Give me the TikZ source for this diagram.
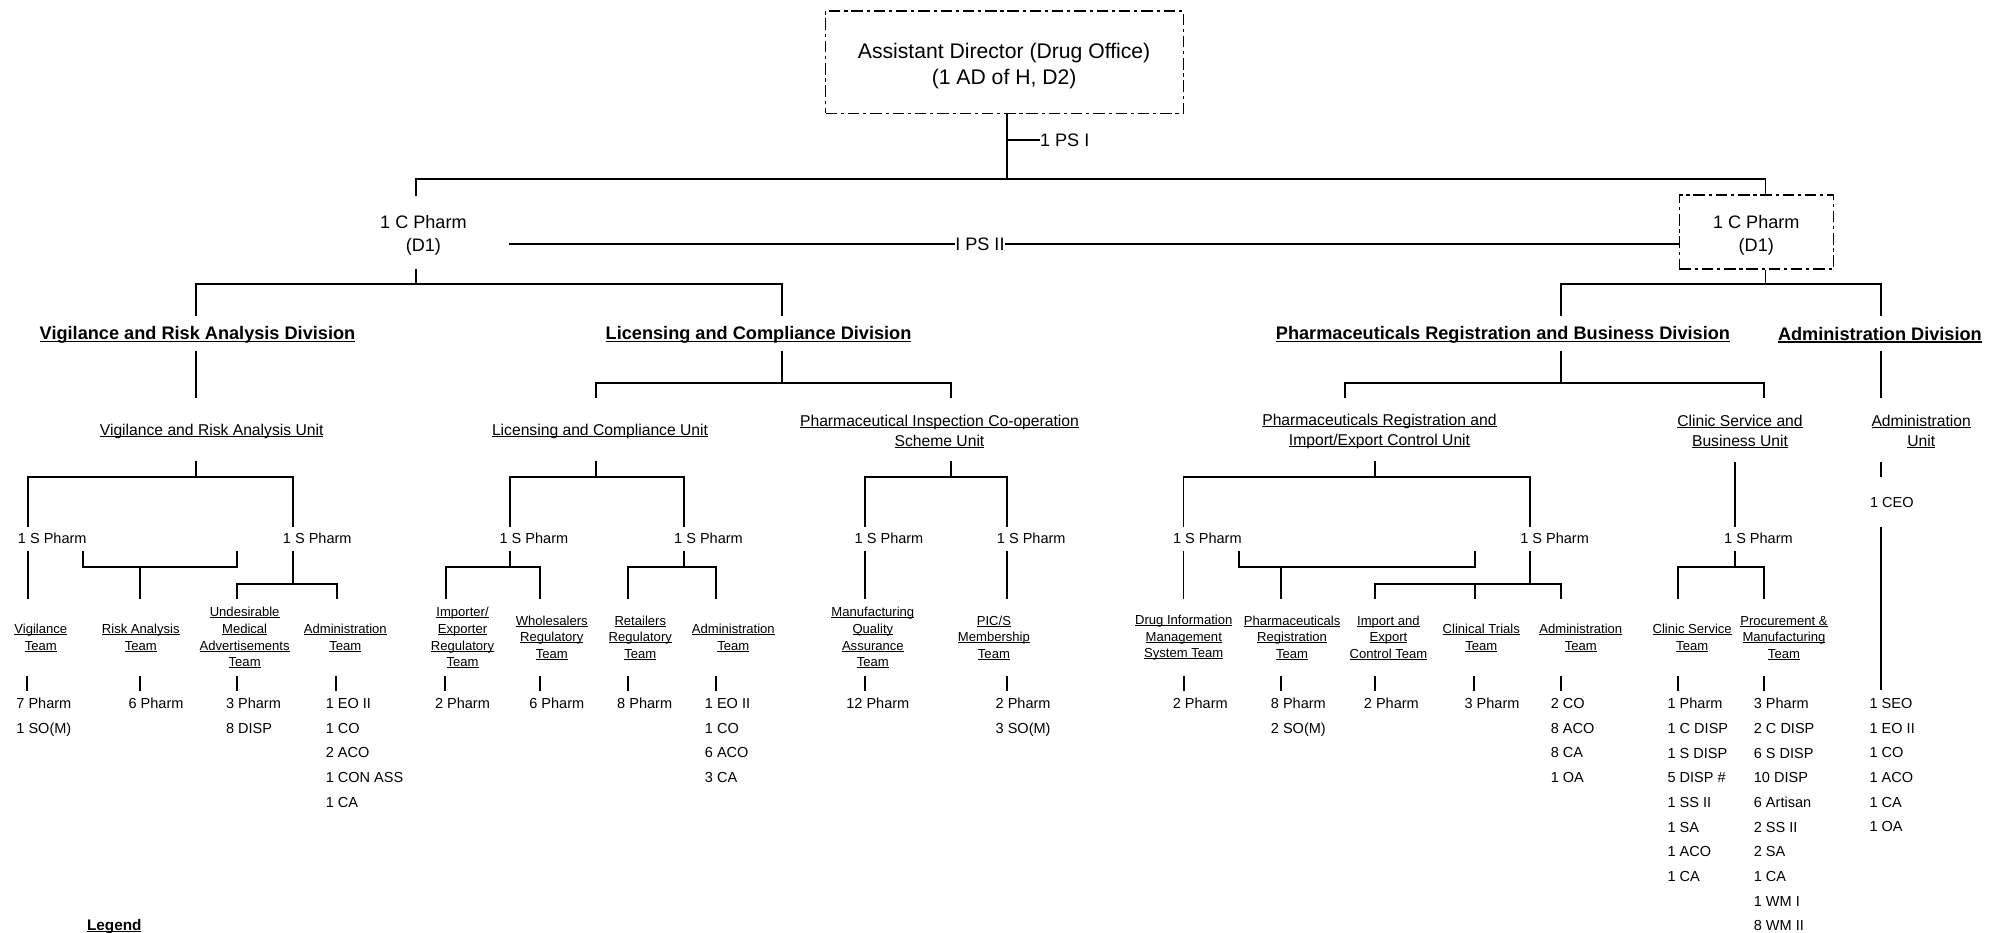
\documentclass[tikz,border=0pt]{standalone}
\usepackage{fontspec}
\setmainfont{Liberation Sans}
\newcommand{\UL}[1]{\leavevmode\setbox0\hbox{#1}\rlap{\rule[-0.11em]{\wd0}{0.07em}}\box0}
\newcommand{\fsTop}{\fontsize{16.6}{20.5}\selectfont}
\newcommand{\fsPos}{\fontsize{14.2}{18.3}\selectfont}
\newcommand{\fsDiv}{\fontsize{14.25}{17}\selectfont\bfseries}
\newcommand{\fsUnit}{\fontsize{12.3}{15.7}\selectfont}
\newcommand{\fsSP}{\fontsize{11.4}{14}\selectfont}
\newcommand{\fsTeam}{\fontsize{10.25}{13.1}\selectfont}
\newcommand{\fsStaff}{\fontsize{11.4}{19.35}\selectfont}
\begin{document}
\begin{tikzpicture}[x=1pt,y=-1pt,
  conn/.style={line width=1.5pt},
  teamtick/.style={line width=1.5pt},
  ddbox/.style={draw, line width=1.1pt, dash pattern=on 9pt off 3pt on 2.5pt off 3pt, inner sep=0pt},
  lbl/.style={inner sep=0pt, anchor=center},
  divn/.style={lbl, font=\fsDiv},
  unitn/.style={lbl, font=\fsUnit, align=center},
  spn/.style={lbl, font=\fsSP},
  team/.style={lbl, font=\fsTeam, align=center},
  staff/.style={inner sep=0pt, anchor=north west, align=left, font=\fsStaff}]
\useasboundingbox (0,0) rectangle (1568,732);

% ---------- top ----------
\node[ddbox, minimum width=280.6pt, minimum height=80.4pt] (ad) at (788.3,48.8) {};
\node[lbl, align=center, font=\fsTop] (adt) at (788,51.5) {Assistant Director (Drug Office)\\(1 AD of H, D2)};
\node[lbl, anchor=west, font=\fsPos] (ps1) at (816,110) {1 PS I};
\coordinate (j0) at (790,140.5);
\draw[conn] (ad.south -| j0) -- (j0);
\draw[conn] (ps1.west -| j0) -- (ps1.west);

\node[lbl, align=center, font=\fsPos] (d1l) at (332.3,184.6) {1 C Pharm\\(D1)};
\node[ddbox, minimum width=121pt, minimum height=58pt] (d1r) at (1378.5,182) {};
\node[lbl, align=center, font=\fsPos] (d1rt) at (1378.3,184.6) {1 C Pharm\\(D1)};
\coordinate (b0l) at (326.4,140.5);
\coordinate (b0r) at (1385.5,140.5);
\draw[conn] (326.4,153.8) -- (b0l) -- (b0r) -- (b0r |- d1r.north);

\node[lbl, font=\fsPos] (ps2) at (769,191.8) {I PS II};
\coordinate (ps2s) at (399.5,191.8);
\draw[conn] (ps2s) -- (ps2.west);
\draw[conn] (ps2.east) -- (ps2.east -| d1r.west);

% left director to divisions
\draw[conn] (326.4,211.4) -- (326.4,223.2);
\draw[conn] (153.6,248) -- (153.6,223.2) -- (614,223.2) -- (614,248);
% right director to divisions
\draw[conn] (d1r.south -| b0r) -- (1385.5,223.2);
\draw[conn] (1225.3,248) -- (1225.3,223.2) -- (1476,223.2) -- (1476,248);

% ---------- divisions ----------
\node[divn] (vrd) at (155,263) {\UL{Vigilance and Risk Analysis Division}};
\node[divn] (lcd) at (595.3,263) {\UL{Licensing and Compliance Division}};
\node[divn] (prbd) at (1179.5,263) {\UL{Pharmaceuticals Registration and Business Division}};
\node[divn] (add) at (1475.3,263) {\UL{Administration Division}};

\draw[conn] (153.6,275.5) -- (153.6,312.6);
\draw[conn] (614,275.5) -- (614,300.4);
\draw[conn] (467.4,312.6) -- (467.4,300.4) -- (746,300.4) -- (746,312.6);
\draw[conn] (1225.3,275.5) -- (1225.3,300.4);
\draw[conn] (1055.4,312.6) -- (1055.4,300.4) -- (1384.4,300.4) -- (1384.4,312.6);
\draw[conn] (1476,275.5) -- (1476,312.6);

% ---------- units ----------
\node[unitn] (vru) at (166.1,338.7) {\UL{Vigilance and Risk Analysis Unit}};
\node[unitn] (lcu) at (470.9,338.7) {\UL{Licensing and Compliance Unit}};
\node[unitn] (picsu) at (737.3,338.6) {\UL{Pharmaceutical Inspection Co-operation}\\\UL{Scheme Unit}};
\node[unitn] (prieu) at (1082.6,338.6) {\UL{Pharmaceuticals Registration and}\\\UL{Import/Export Control Unit}};
\node[unitn] (csbu) at (1365.5,338.6) {\UL{Clinic Service and}\\\UL{Business Unit}};
\node[unitn] (adu) at (1507.7,338.6) {\UL{Administration}\\\UL{Unit}};

\draw[conn] (153.6,362) -- (153.6,374);
\draw[conn] (21.7,413.4) -- (21.7,374) -- (230,374) -- (230,413.4);
\draw[conn] (467.4,362) -- (467.4,374);
\draw[conn] (400,413.4) -- (400,374) -- (537,374) -- (537,413.4);
\draw[conn] (746,362) -- (746,374);
\draw[conn] (679,413.4) -- (679,374) -- (790,374) -- (790,413.4);
\draw[conn] (1079,362) -- (1079,374);
\draw[conn] (928.8,413.4) -- (928.8,374) -- (1201,374) -- (1201,413.4);
\draw[conn] (1361.3,362.9) -- (1361.3,413.4);
\draw[conn] (1476,362.9) -- (1476,374);

% ---------- senior pharmacists ----------
\node[spn] (sp1) at (41,422.5) {1 S Pharm};
\node[spn] (sp2) at (249,422.5) {1 S Pharm};
\node[spn] (sp3) at (419,422.5) {1 S Pharm};
\node[spn] (sp4) at (556,422.5) {1 S Pharm};
\node[spn] (sp5) at (697.7,422.5) {1 S Pharm};
\node[spn] (sp6) at (809.3,422.5) {1 S Pharm};
\node[spn] (sp7) at (947.5,422.5) {1 S Pharm};
\node[spn] (sp8) at (1220,422.5) {1 S Pharm};
\node[spn] (sp9) at (1380,422.5) {1 S Pharm};
\node[spn] (ceo) at (1484.7,394.3) {1 CEO};

\draw[conn] (21.7,432.6) -- (21.7,470);
\draw[conn] (65.4,432.6) -- (65.4,444.8) -- (186,444.8) -- (186,432.6);
\draw[conn] (109.6,444.8) -- (109.6,470);
\draw[conn] (230,432.6) -- (230,458.4);
\draw[conn] (185.8,470) -- (185.8,458.4) -- (264.5,458.4) -- (264.5,470);
\draw[conn] (400,432.6) -- (400,444.8);
\draw[conn] (350,470) -- (350,444.8) -- (424,444.8) -- (424,470);
\draw[conn] (537,432.6) -- (537,444.8);
\draw[conn] (493,470) -- (493,444.8) -- (562,444.8) -- (562,470);
\draw[conn] (679,432.6) -- (679,470);
\draw[conn] (790,432.6) -- (790,470);
\draw[conn] (928.8,432.6) -- (928.8,470);
\draw[conn] (972.4,432.6) -- (972.4,444.8) -- (1157.3,444.8) -- (1157.3,432.6);
\draw[conn] (1005.3,444.8) -- (1005.3,470);
\draw[conn] (1201,432.6) -- (1201,458.4);
\draw[conn] (1079,470) -- (1079,458.4) -- (1225.3,458.4) -- (1225.3,470);
\draw[conn] (1157.3,458.4) -- (1157.3,470);
\draw[conn] (1361.3,432.6) -- (1361.3,444.8);
\draw[conn] (1317,470) -- (1317,444.8) -- (1384.4,444.8) -- (1384.4,470);
\draw[conn] (1476,413.4) -- (1476,541.6);

% ---------- teams ----------
\node[team] (t1) at (32,500.6) {\UL{Vigilance}\\\UL{Team}};
\node[team] (t2) at (110.5,500.6) {\UL{Risk Analysis}\\\UL{Team}};
\node[team] (t3) at (192,500.6) {\UL{Undesirable}\\\UL{Medical}\\\UL{Advertisements}\\\UL{Team}};
\node[team] (t4) at (271,500.6) {\UL{Administration}\\\UL{Team}};
\node[team] (t5) at (363,500.6) {\UL{Importer/}\\\UL{Exporter}\\\UL{Regulatory}\\\UL{Team}};
\node[team] (t6) at (433,500.6) {\UL{Wholesalers}\\\UL{Regulatory}\\\UL{Team}};
\node[team] (t7) at (502.5,500.6) {\UL{Retailers}\\\UL{Regulatory}\\\UL{Team}};
\node[team] (t8) at (575.5,500.6) {\UL{Administration}\\\UL{Team}};
\node[team] (t9) at (685,500.6) {\UL{Manufacturing}\\\UL{Quality}\\\UL{Assurance}\\\UL{Team}};
\node[team] (t10) at (780,500.6) {\UL{PIC/S}\\\UL{Membership}\\\UL{Team}};
\node[team] (t11) at (929,500.6) {\UL{Drug Information}\\\UL{Management}\\\UL{System Team}};
\node[team] (t12) at (1014,500.6) {\UL{Pharmaceuticals}\\\UL{Registration}\\\UL{Team}};
\node[team] (t13) at (1089.6,500.6) {\UL{Import and}\\\UL{Export}\\\UL{Control Team}};
\node[team] (t14) at (1162.5,500.6) {\UL{Clinical Trials}\\\UL{Team}};
\node[team] (t15) at (1240.6,500.6) {\UL{Administration}\\\UL{Team}};
\node[team] (t16) at (1328,500.6) {\UL{Clinic Service}\\\UL{Team}};
\node[team] (t17) at (1400,500.6) {\UL{Procurement \&}\\\UL{Manufacturing}\\\UL{Team}};

\foreach \x in {21.5,109.6,185.7,263.8,349.4,423.5,493,561.6,678.8,790,928.9,1005.3,1079,1156.7,1225,1317,1384.5}
  \draw[teamtick] (\x,530.6) -- (\x,542);

% ---------- staff ----------
\node[staff] (s1) at (12.7,547.9) {7 Pharm\\1 SO(M)};
\node[staff] (s2) at (100.7,547.9) {6 Pharm};
\node[staff] (s3) at (177.2,547.9) {3 Pharm\\8 DISP};
\node[staff] (s4) at (255.5,547.9) {1 EO II\\1 CO\\2 ACO\\1 CON ASS\\1 CA};
\node[staff] (s5) at (341.2,547.9) {2 Pharm};
\node[staff] (s6) at (415.2,547.9) {6 Pharm};
\node[staff] (s7) at (484.2,547.9) {8 Pharm};
\node[staff] (s8) at (553,547.9) {1 EO II\\1 CO\\6 ACO\\3 CA};
\node[staff] (s9) at (664,547.9) {12 Pharm};
\node[staff] (s10) at (781.2,547.9) {2 Pharm\\3 SO(M)};
\node[staff] (s11) at (920.2,547.9) {2 Pharm};
\node[staff] (s12) at (997.2,547.9) {8 Pharm\\2 SO(M)};
\node[staff] (s13) at (1070.2,547.9) {2 Pharm};
\node[staff] (s14) at (1149.2,547.9) {3 Pharm};
\node[staff] (s15) at (1216.8,547.9) {2 CO\\8 ACO\\8 CA\\1 OA};
\node[staff] (s16) at (1308.5,547.9) {1 Pharm\\1 C DISP\\1 S DISP\\5 DISP \#\\1 SS II\\1 SA\\1 ACO\\1 CA};
\node[staff] (s17) at (1376.2,547.9) {3 Pharm\\2 C DISP\\6 S DISP\\10 DISP\\6 Artisan\\2 SS II\\2 SA\\1 CA\\1 WM I\\8 WM II};
\node[staff] (s18) at (1467,547.9) {1 SEO\\1 EO II\\1 CO\\1 ACO\\1 CA\\1 OA};

% ---------- legend ----------
\node[lbl, font=\fontsize{12}{14}\selectfont\bfseries] (legend) at (89.7,727.2) {\UL{Legend}};
\end{tikzpicture}
\end{document}
